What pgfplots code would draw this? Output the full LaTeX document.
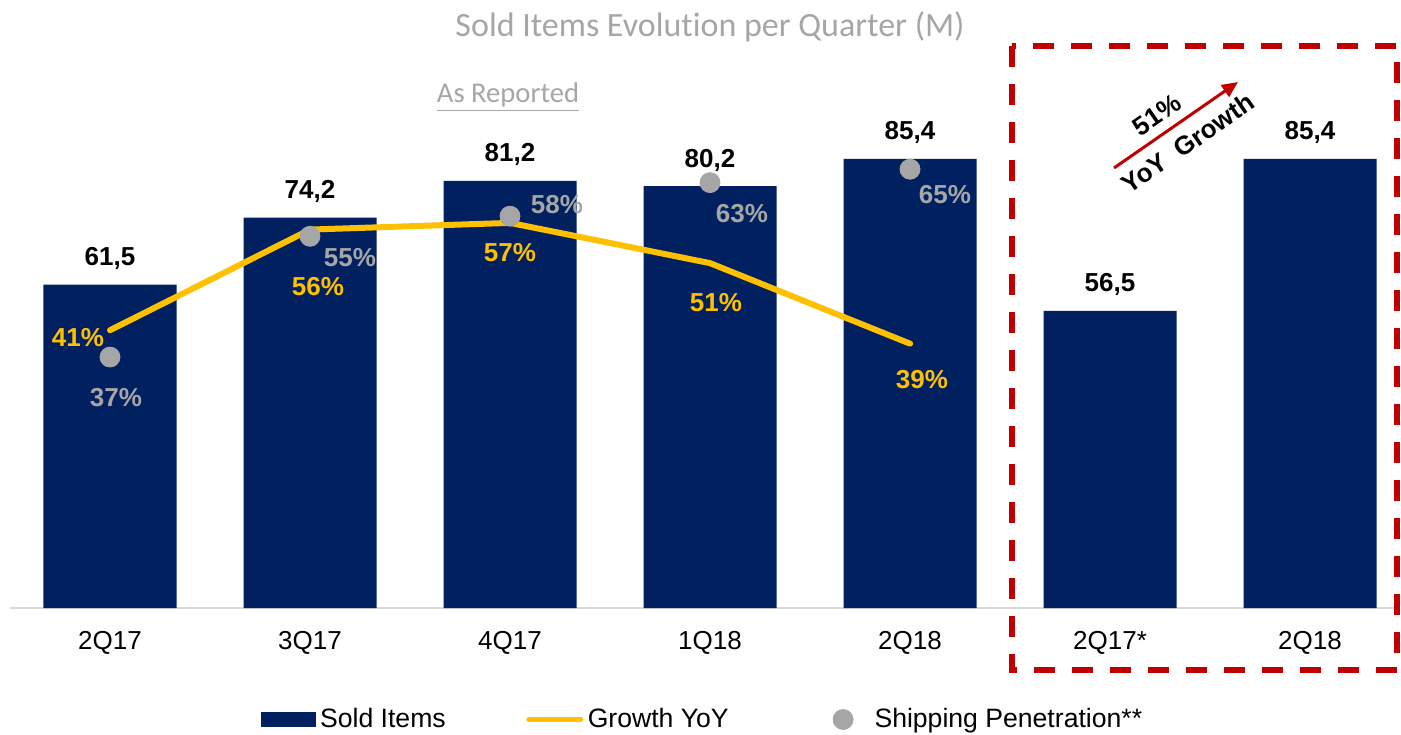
\documentclass[border=0pt]{standalone}
\usepackage{pgfplots}
\pgfplotsset{compat=1.18}
\usepackage{fontspec}
\setmainfont{Liberation Sans}
\newfontfamily\calibri[Ligatures=NoCommon]{Carlito}
\usetikzlibrary{arrows.meta}
\definecolor{navy}{HTML}{002060}
\definecolor{gold}{HTML}{FFC000}
\definecolor{dotgray}{HTML}{A6A6A6}
\definecolor{titlegray}{HTML}{A6A6A6}
\definecolor{boxred}{HTML}{C00000}
\definecolor{axisgray}{HTML}{D9D9D9}
\newcommand{\lab}{\fontsize{13}{15.6}\selectfont}
\newcommand{\leg}{\fontsize{13.3}{16}\selectfont}
\pgfplotsset{base/.style={scale only axis, width=695pt, height=263pt,
  xmin=-0.5, xmax=6.45, at={(5pt,63pt)}, anchor=south west, clip=false}}
\begin{document}
\begin{tikzpicture}
\path[use as bounding box] (0,0) rectangle (700.5pt,367pt);
% ---- bars (primary axis)
\begin{axis}[base, ymin=0, ymax=100,
  axis y line=none, axis x line=bottom,
  x axis line style={-, draw=axisgray, line width=1pt},
  xtick={0,...,6}, xticklabels={2Q17,3Q17,4Q17,1Q18,2Q18,2Q17*,2Q18},
  major tick length=0pt, ytick=\empty,
  xticklabel style={font=\lab, inner sep=0pt, anchor=north, yshift=-11.3pt},
]
\addplot[ybar, bar width=66.5pt, fill=navy, draw=none,
  point meta=explicit symbolic, nodes near coords,
  every node near coord/.append style={font=\lab\bfseries, anchor=center, yshift=13pt}]
  table[x=x, y=y, meta=lab] {
x y lab
0 61.5 61,5
1 74.2 74,2
2 81.2 81,2
3 80.2 80,2
4 85.4 85,4
5 56.5 56,5
6 85.4 85,4
};
\end{axis}
% ---- line and dots (secondary axis)
\begin{axis}[base, ymin=-0.4, ymax=78, hide axis,
  legend columns=3,
  legend style={at={(0.1805,-0.2120)}, anchor=west, draw=none, fill=none,
    inner sep=0pt, font=\leg, nodes={inner sep=0pt},
    /tikz/every odd column/.append style={column sep=2pt},
    /tikz/every even column/.append style={column sep=37.5pt}},
]
\addlegendimage{legend image code/.code={\fill[navy] (1.5pt,-3.5pt) rectangle (28.5pt,3.5pt);}}
\addlegendentry{Sold Items}
\addplot[gold, line width=3pt, line join=round, line cap=round, mark=none,
  point meta=explicit symbolic,
  visualization depends on={value \thisrow{dx} \as \dx},
  visualization depends on={value \thisrow{dy} \as \dy},
  nodes near coords={\pgfplotspointmeta\%},
  every node near coord/.append style={font=\lab\bfseries, text=gold, anchor=center,
    xshift=\dx pt, yshift=\dy pt},
  legend image code/.code={\draw[gold, line width=2.5pt, line cap=round] (2.5pt,0pt) -- (28.5pt,0pt);
    \path (0pt,0pt) (28.5pt,0pt);}]
  table[x=x, y=y, meta=y] {
x y dx dy
0 41 -16 -3.5
1 56 4 -28.5
2 57 0 -15
3 51 3 -19.5
4 39 6 -18
};
\addlegendentry{Growth YoY\rule{4.5pt}{0pt}}
\addplot[only marks, mark=*, mark size=5pt, color=dotgray,
  mark options={fill=dotgray, draw=none},
  point meta=explicit symbolic,
  visualization depends on={value \thisrow{dx} \as \dx},
  visualization depends on={value \thisrow{dy} \as \dy},
  nodes near coords={\pgfplotspointmeta\%},
  every node near coord/.append style={font=\lab\bfseries, text=dotgray, anchor=center,
    xshift=\dx pt, yshift=\dy pt},
  legend image code/.code={\fill[dotgray] (15pt,0pt) circle (5pt); \path (0pt,0pt) (28.5pt,0pt);}]
  table[x=x, y=y, meta=y] {
x y dx dy
0 37 3 -20
1 55 20 -10.5
2 58 23.5 6
3 63 16 -15.5
4 65 17.5 -12.5
};
\addlegendentry{Shipping Penetration**}
\end{axis}
% ---- annotations
\begin{scope}[shift={(0pt,367pt)}, x=0.5pt, y=-0.5pt]
\node[font=\calibri\fontsize{17}{20}\selectfont, text=titlegray] at (710,27) {Sold Items Evolution per Quarter (M)};
\node[font=\calibri\fontsize{14.3}{17}\selectfont, text=titlegray] at (508,97) {\underline{As Reported}};
\draw[boxred, line width=3pt, dash pattern=on 10.5pt off 8.5pt] (1012,46) rectangle (1397,670);
\draw[boxred, line width=1.5pt, -{Triangle[length=8pt,width=7pt]}] (1114,168) -- (1238,82);
\node[rotate=34.7, font=\lab\bfseries] at (1157,115) {51\%};
\node[rotate=34.7, font=\lab\bfseries] at (1188,143) {YoY\ \ Growth};
\end{scope}
\end{tikzpicture}
\end{document}
